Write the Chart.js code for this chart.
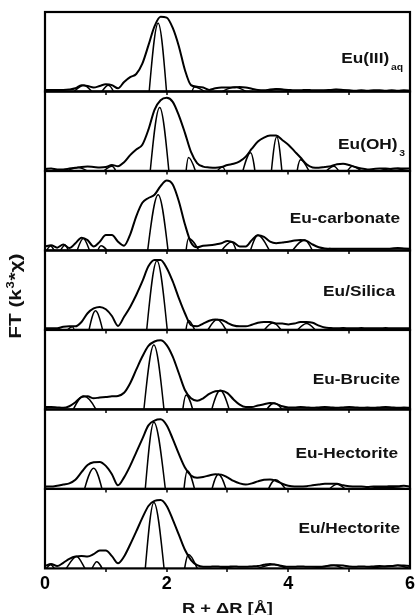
<!DOCTYPE html>
<html>
<head>
<meta charset="utf-8">
<script src="https://cdn.jsdelivr.net/npm/chart.js@4.4.1/dist/chart.umd.min.js"></script>
<style>
  html, body { margin: 0; padding: 0; background: #fff; }
</style>
</head>
<body>
<canvas id="ftChart" width="420" height="615"></canvas>
<script>
// R + dR grid (Angstrom) for the FT magnitudes
var rGrid = [0, 0.1, 0.2, 0.3, 0.4, 0.5, 0.6, 0.7, 0.8, 0.9,
  1.0, 1.1, 1.2, 1.3, 1.4, 1.5, 1.6, 1.7, 1.8, 1.9,
  2.0, 2.1, 2.2, 2.3, 2.4, 2.5, 2.6, 2.7, 2.8, 2.9,
  3.0, 3.1, 3.2, 3.3, 3.4, 3.5, 3.6, 3.7, 3.8, 3.9,
  4.0, 4.1, 4.2, 4.3, 4.4, 4.5, 4.6, 4.7, 4.8, 4.9,
  5.0, 5.1, 5.2, 5.3, 5.4, 5.5, 5.6, 5.7, 5.8, 5.9, 6.0];

var sampleNames = ["Eu(III)", "Eu(OH)", "Eu-carbonate", "Eu/Silica", "Eu-Brucite", "Eu-Hectorite", "Eu/Hectorite"];
var sampleSubs = ["aq", "3", "", "", "", "", ""];

// |FT| per sample, scaled to the panel height
var magAq = [0.02, 0.02, 0.02, 0.02, 0.025, 0.04, 0.08, 0.07, 0.05, 0.07,
  0.09, 0.08, 0.04, 0.12, 0.18, 0.22, 0.35, 0.58, 0.82, 0.94,
  0.93, 0.80, 0.57, 0.27, 0.08, 0.06, 0.05, 0.02, 0.04, 0.05,
  0.05, 0.05, 0.055, 0.05, 0.035, 0.02, 0.015, 0.025, 0.03, 0.025,
  0.02, 0.015, 0.015, 0.02, 0.015, 0.015, 0.015, 0.02, 0.025, 0.02,
  0.015, 0.01, 0.015, 0.01, 0.015, 0.015, 0.01, 0.015, 0.01, 0.015, 0.01];
var magOH = [0.025, 0.03, 0.02, 0.02, 0.03, 0.04, 0.05, 0.055, 0.05, 0.045,
  0.05, 0.075, 0.06, 0.11, 0.2, 0.27, 0.33, 0.52, 0.77, 0.89,
  0.92, 0.87, 0.7, 0.48, 0.24, 0.1, 0.055, 0.045, 0.04, 0.05,
  0.075, 0.09, 0.12, 0.18, 0.28, 0.37, 0.42, 0.445, 0.445, 0.39,
  0.33, 0.25, 0.17, 0.085, 0.045, 0.04, 0.05, 0.06, 0.085, 0.09,
  0.075, 0.05, 0.03, 0.02, 0.025, 0.03, 0.03, 0.025, 0.035, 0.03, 0.03];
var magCarb = [0.05, 0.065, 0.035, 0.075, 0.03, 0.09, 0.16, 0.13, 0.05, 0.11,
  0.195, 0.195, 0.11, 0.06, 0.2, 0.43, 0.6, 0.66, 0.7, 0.81,
  0.88, 0.83, 0.62, 0.33, 0.1, 0.04, 0.06, 0.065, 0.075, 0.09,
  0.12, 0.1, 0.05, 0.05, 0.13, 0.19, 0.17, 0.11, 0.09, 0.1,
  0.11, 0.125, 0.13, 0.12, 0.075, 0.04, 0.025, 0.02, 0.02, 0.02,
  0.02, 0.02, 0.02, 0.02, 0.02, 0.02, 0.02, 0.025, 0.03, 0.025, 0.02];
var magSilica = [0.02, 0.02, 0.02, 0.04, 0.045, 0.045, 0.1, 0.21, 0.27, 0.29,
  0.26, 0.175, 0.05, 0.165, 0.29, 0.44, 0.61, 0.8, 0.88, 0.88,
  0.78, 0.61, 0.4, 0.21, 0.06, 0.045, 0.08, 0.115, 0.13, 0.125,
  0.09, 0.055, 0.045, 0.045, 0.065, 0.09, 0.1, 0.1, 0.08, 0.08,
  0.07, 0.08, 0.1, 0.1, 0.09, 0.055, 0.03, 0.025, 0.02, 0.025,
  0.02, 0.02, 0.025, 0.02, 0.02, 0.02, 0.025, 0.02, 0.02, 0.02, 0.02];
var magBrucite = [0.03, 0.03, 0.025, 0.02, 0.04, 0.09, 0.155, 0.165, 0.14, 0.15,
  0.155, 0.165, 0.17, 0.21, 0.33, 0.5, 0.665, 0.8, 0.855, 0.87,
  0.81, 0.665, 0.455, 0.245, 0.14, 0.11, 0.14, 0.195, 0.23, 0.235,
  0.205, 0.125, 0.06, 0.03, 0.03, 0.05, 0.065, 0.08, 0.07, 0.04,
  0.025, 0.025, 0.03, 0.025, 0.02, 0.025, 0.03, 0.025, 0.02, 0.025,
  0.03, 0.025, 0.02, 0.025, 0.02, 0.025, 0.03, 0.025, 0.02, 0.025, 0.02];
var magHect = [0.03, 0.03, 0.04, 0.055, 0.07, 0.115, 0.21, 0.3, 0.335, 0.34,
  0.29, 0.185, 0.045, 0.145, 0.29, 0.46, 0.63, 0.8, 0.86, 0.875,
  0.8, 0.63, 0.44, 0.27, 0.17, 0.14, 0.15, 0.17, 0.185, 0.18,
  0.145, 0.1, 0.07, 0.055, 0.07, 0.095, 0.115, 0.12, 0.1, 0.065,
  0.04, 0.03, 0.03, 0.035, 0.045, 0.055, 0.065, 0.065, 0.065, 0.045,
  0.035, 0.03, 0.03, 0.025, 0.03, 0.03, 0.03, 0.035, 0.035, 0.04, 0.03];
var magHect2 = [0.03, 0.055, 0.03, 0.07, 0.12, 0.15, 0.155, 0.15, 0.18, 0.225,
  0.225, 0.155, 0.065, 0.15, 0.3, 0.465, 0.635, 0.785, 0.85, 0.86,
  0.785, 0.615, 0.425, 0.235, 0.105, 0.04, 0.02, 0.02, 0.025, 0.02,
  0.02, 0.025, 0.02, 0.02, 0.025, 0.03, 0.045, 0.055, 0.045, 0.03,
  0.02, 0.02, 0.025, 0.02, 0.02, 0.02, 0.025, 0.04, 0.04, 0.035,
  0.025, 0.02, 0.025, 0.02, 0.025, 0.03, 0.025, 0.03, 0.04, 0.035, 0.03];

// Im(FT): turning points (R, value); the negative half is cut off by the panel floor
var imAqR = [0, 0.36, 0.64, 0.86, 1.04, 1.55, 1.86, 2.15, 2.46, 2.75, 3.12, 3.45, 3.83, 4.2, 4.78, 5.1, 5.5, 6.0];
var imAqV = [0.0, -0.05, 0.08, -0.05, 0.08, -1.0, 0.86, -1.0, 0.055, -0.04, 0.055, -0.04, 0.03, -0.03, 0.025, -0.02, 0.01, 0.0];
var imOHR = [0, 0.2, 0.55, 0.85, 1.1, 1.55, 1.885, 2.2, 2.36, 2.6, 2.92, 3.1, 3.38, 3.6, 3.81, 4.0, 4.2, 4.45, 4.75, 4.9, 5.05, 5.3, 5.7, 6.0];
var imOHV = [0.02, -0.03, 0.045, -0.05, 0.06, -1.0, 0.8, -0.9, 0.17, -0.2, 0.05, -0.3, 0.23, -0.7, 0.43, -0.6, 0.14, -0.1, 0.06, -0.05, 0.06, -0.03, 0.03, 0.0];
var imCarbR = [0, 0.09, 0.2, 0.33, 0.45, 0.63, 0.8, 0.92, 1.1, 1.5, 1.86, 2.2, 2.36, 2.7, 3.07, 3.25, 3.5, 3.85, 4.27, 4.5, 4.68, 4.9, 6.0];
var imCarbV = [-0.03, 0.055, -0.04, 0.07, -0.1, 0.15, -0.08, 0.06, -0.1, -0.8, 0.7, -0.8, 0.15, -0.15, 0.11, -0.2, 0.19, -0.15, 0.13, -0.1, 0.025, -0.02, 0.0];
var imSilicaR = [0, 0.3, 0.45, 0.6, 0.83, 1.05, 1.5, 1.84, 2.17, 2.36, 2.55, 2.83, 3.1, 3.45, 3.75, 4.0, 4.3, 4.55, 4.9, 5.2, 6.0];
var imSilicaV = [0.01, -0.03, 0.04, -0.3, 0.24, -0.3, -0.9, 0.87, -0.8, 0.12, -0.1, 0.13, -0.1, -0.1, 0.09, -0.08, 0.08, -0.05, 0.02, -0.02, 0.0];
var imBruciteR = [0, 0.3, 0.63, 1.45, 1.79, 2.12, 2.32, 2.58, 2.88, 3.2, 3.35, 3.77, 4.05, 4.6, 5.0, 5.6, 6.0];
var imBruciteV = [0.02, -0.17, 0.17, -0.9, 0.81, -0.8, 0.18, -0.3, 0.24, -0.3, -0.3, 0.08, -0.1, 0.02, -0.02, 0.02, 0.0];
var imHectR = [0, 0.45, 0.8, 1.05, 1.5, 1.79, 2.16, 2.34, 2.6, 2.85, 3.15, 3.45, 3.79, 4.1, 4.5, 4.8, 5.05, 5.5, 6.0];
var imHectV = [0.02, -0.4, 0.26, -0.3, -0.9, 0.84, -0.8, 0.23, -0.3, 0.185, -0.3, -0.3, 0.115, -0.1, -0.1, 0.06, -0.05, 0.02, 0.0];
var imHect2R = [0, 0.09, 0.24, 0.52, 0.72, 0.85, 1.05, 1.5, 1.79, 2.12, 2.36, 2.6, 2.95, 3.3, 3.77, 4.1, 4.75, 5.0, 5.8, 6.0];
var imHect2V = [-0.02, 0.045, -0.08, 0.15, -0.05, 0.085, -0.2, -0.9, 0.83, -0.8, 0.175, -0.1, 0.015, -0.03, 0.05, -0.03, 0.035, -0.02, 0.035, 0.0];

var xTickLabels = [0, 2, 4, 6];
var panelTicks = [1, 2, 3, 4, 5];

var magnitudes = [magAq, magOH, magCarb, magSilica, magBrucite, magHect, magHect2];
var imagR = [imAqR, imOHR, imCarbR, imSilicaR, imBruciteR, imHectR, imHect2R];
var imagV = [imAqV, imOHV, imCarbV, imSilicaV, imBruciteV, imHectV, imHect2V];

// label placement: right edge (px) and baseline below the panel top (px)
var labelRight = [403, 405, 400, 395, 400, 398, 400];
var labelBase = [51, 58, 52, 46, 54, 49, 44];

var FONT = '"Liberation Sans", Arial, sans-serif';
var STRETCH = 1.15;

var datasets = [];
var scales = {
  x: {
    type: 'linear', min: 0, max: 6, position: 'bottom',
    grid: { display: false, drawTicks: false },
    border: { display: false },
    afterBuildTicks: function (axis) {
      axis.ticks = xTickLabels.map(function (v) { return { value: v }; });
    },
    ticks: { color: '#000', padding: 5, maxRotation: 0, font: { family: FONT, size: 18, weight: 'bold' } }
  }
};

sampleNames.forEach(function (name, i) {
  var id = 'p' + i;
  scales[id] = {
    type: 'linear', position: 'left', min: 0, max: 1,
    stack: 'ft', stackWeight: 1, weight: sampleNames.length - i,
    display: false
  };
  datasets.push({
    label: name + ' |FT|',
    data: rGrid.map(function (r, k) { return { x: r, y: magnitudes[i][k] }; }),
    yAxisID: id, borderColor: '#000', borderWidth: 2,
    pointRadius: 0, cubicInterpolationMode: 'monotone', fill: false
  });
  datasets.push({
    label: name + ' Im',
    data: imagR[i].map(function (r, k) { return { x: r, y: imagV[i][k] }; }),
    yAxisID: id, borderColor: '#000', borderWidth: 1.5,
    pointRadius: 0, cubicInterpolationMode: 'monotone', fill: false
  });
});

function drawLabel(ctx, main, sub, right, base) {
  ctx.font = 'bold 15px ' + FONT;
  var wMain = ctx.measureText(main).width;
  ctx.font = 'bold 9px ' + FONT;
  var wSub = sub ? ctx.measureText(sub).width + 1.5 : 0;
  ctx.save();
  ctx.translate(right - (wMain + wSub) * STRETCH, base);
  ctx.scale(STRETCH, 1);
  ctx.fillStyle = '#111';
  ctx.textBaseline = 'alphabetic';
  ctx.font = 'bold 15px ' + FONT;
  ctx.fillText(main, 0, 0);
  if (sub) {
    ctx.font = 'bold 9px ' + FONT;
    ctx.fillText(sub, wMain + 1.5, 7);
  }
  ctx.restore();
}

var panelDecor = {
  id: 'panelDecor',
  afterDatasetsDraw: function (chart) {
    var ctx = chart.ctx;
    var xs = chart.scales.x;
    ctx.save();
    ctx.strokeStyle = '#000';
    sampleNames.forEach(function (name, i) {
      var ys = chart.scales['p' + i];
      ctx.lineWidth = 2.2;
      ctx.strokeRect(xs.left, ys.top, xs.right - xs.left, ys.bottom - ys.top);
      ctx.lineWidth = 1.5;
      panelTicks.forEach(function (r) {
        var px = Math.round(xs.getPixelForValue(r));
        ctx.beginPath();
        ctx.moveTo(px, ys.bottom);
        ctx.lineTo(px, ys.bottom + 3.5);
        ctx.stroke();
      });
      drawLabel(ctx, name, sampleSubs[i], labelRight[i], ys.top + labelBase[i]);
    });

    // axis titles
    var area = chart.chartArea;
    ctx.fillStyle = '#111';
    ctx.textBaseline = 'alphabetic';
    ctx.font = 'bold 15px ' + FONT;
    var xt = 'R + \u0394R [\u00C5]';
    var w = ctx.measureText(xt).width * 1.22;
    ctx.save();
    ctx.translate((area.left + area.right) / 2 - w / 2, 613);
    ctx.scale(1.22, 1);
    ctx.fillText(xt, 0, 0);
    ctx.restore();

    var a = 'FT (k', s = '3', b = '*\u03C7)';
    var ys = 1.3;
    ctx.font = 'bold 16px ' + FONT;
    var wa = ctx.measureText(a).width, wb = ctx.measureText(b).width;
    ctx.font = 'bold 10px ' + FONT;
    var ws = ctx.measureText(s).width + 1;
    var total = (wa + ws + wb) * ys;
    ctx.save();
    ctx.translate(21, (area.top + area.bottom) / 2 + 6);
    ctx.rotate(-Math.PI / 2);
    ctx.translate(-total / 2, 0);
    ctx.scale(ys, 1);
    ctx.font = 'bold 16px ' + FONT;
    ctx.fillText(a, 0, 0);
    ctx.font = 'bold 10px ' + FONT;
    ctx.fillText(s, wa + 0.5, -7);
    ctx.font = 'bold 16px ' + FONT;
    ctx.fillText(b, wa + ws, 0);
    ctx.restore();
    ctx.restore();
  }
};

var ctxFT = document.getElementById('ftChart').getContext('2d');
var ftChart = new Chart(ctxFT, {
  type: 'line',
  data: { datasets: datasets },
  options: {
    responsive: false,
    animation: false,
    devicePixelRatio: 1,
    layout: { padding: { left: 45, right: 7, top: 12, bottom: 15 } },
    plugins: { legend: { display: false }, tooltip: { enabled: false } },
    scales: scales
  },
  plugins: [panelDecor]
});
</script>
</body>
</html>
